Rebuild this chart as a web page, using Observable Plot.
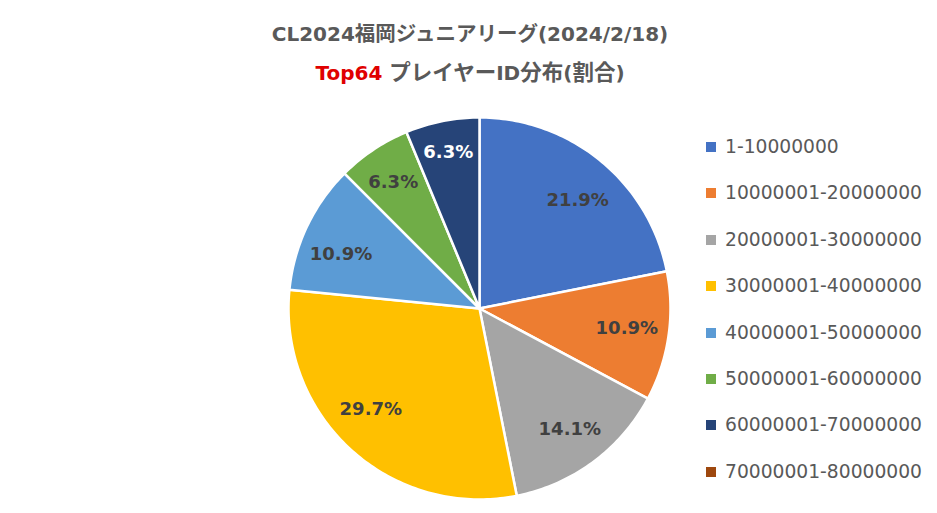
<!DOCTYPE html>
<html><head><meta charset="utf-8">
<script src="https://cdn.jsdelivr.net/npm/d3@7"></script>
<script src="https://cdn.jsdelivr.net/npm/@observablehq/plot@0.6"></script>
<style>
body{margin:0;background:#fff}
#wrap{position:relative;width:937px;height:513px;overflow:hidden}
#wrap svg{position:absolute;left:0;top:0}
.title{position:absolute;left:0;width:940px;text-align:center;font-family:"DejaVu Sans","Noto Sans CJK JP",sans-serif;font-weight:bold;font-size:20px;color:#595959;white-space:nowrap;line-height:26px}
.title .jp{font-family:"Noto Sans CJK JP",sans-serif;font-size:20.5px}
.title.l2 .jp{font-size:21.5px}
#legend{position:absolute;left:706px;top:0;font-family:"DejaVu Sans",sans-serif;font-size:18.7px;color:#595959}
.item{position:absolute;left:0;white-space:nowrap;height:20px;line-height:20px}
.sw{position:absolute;left:0;top:5px;width:10px;height:10px}
.lt{position:absolute;left:19px;top:0}
</style></head>
<body><div id="wrap"></div>
<script>
const categories = ["1-10000000","10000001-20000000","20000001-30000000","30000001-40000000","40000001-50000000","50000001-60000000","60000001-70000000","70000001-80000000"];
const counts = [14,7,9,19,7,4,4,0];
const colors = ["#4472C4","#ED7D31","#A5A5A5","#FFC000","#5B9BD5","#70AD47","#264478","#9E480E"];
const whiteLabelCats = ["60000001-70000000"];
// label placement nudges in pixels (layout only)
const labelNudgeX = [3,-1,1,-8,-3,-3,-2,0];
const labelNudgeY = [8,-2,0,-10,10,-2,-9,0];

const cx=479, cy=308, R=191;
const total = d3.sum(counts);
const data = categories.map((c,i)=>({cat:c, count:counts[i], i}));
const arcs = d3.pie().sort(null).value(d=>d.count)(data).filter(a=>a.data.count>0);

const poly = [];
for (const a of arcs) {
  const span = a.endAngle - a.startAngle;
  const n = Math.max(2, Math.ceil(span / (Math.PI/180)));
  poly.push({cat:a.data.cat, x:0, y:0});
  for (let k=0;k<=n;k++){
    const t = a.startAngle + span*k/n;
    poly.push({cat:a.data.cat, x:Math.sin(t), y:Math.cos(t)});
  }
}
const labels = arcs.map(a=>{
  const m=(a.startAngle+a.endAngle)/2, r=0.785, i=a.data.i;
  return {cat:a.data.cat,
    x:r*Math.sin(m) + labelNudgeX[i]/R,
    y:r*Math.cos(m) - labelNudgeY[i]/R,
    text:(a.data.count/total*100).toFixed(1)+"%"};
});

const plot = Plot.plot({
  width:937, height:513,
  marginTop:0, marginBottom:0, marginLeft:0, marginRight:0,
  x:{domain:[-1,1], range:[cx-R, cx+R], axis:null},
  y:{domain:[-1,1], range:[cy+R, cy-R], axis:null},
  color:{domain:categories, range:colors},
  marks:[
    Plot.line(poly, {x:"x", y:"y", z:"cat", fill:"cat", stroke:"white", strokeWidth:2.5, curve:"linear-closed", strokeLinejoin:"round"}),
    Plot.text(labels.filter(d=>!whiteLabelCats.includes(d.cat)), {x:"x", y:"y", text:"text", fill:"#404040", fontWeight:"bold", fontSize:18, fontFamily:"DejaVu Sans"}),
    Plot.text(labels.filter(d=>whiteLabelCats.includes(d.cat)), {x:"x", y:"y", text:"text", fill:"white", fontWeight:"bold", fontSize:18, fontFamily:"DejaVu Sans"})
  ]
});
const wrap = document.getElementById("wrap");
wrap.appendChild(plot);

const t1 = document.createElement("div");
t1.className="title"; t1.style.top="19px";
t1.innerHTML='CL2024<span class="jp">福岡ジュニアリーグ</span>(2024/2/18)';
wrap.appendChild(t1);
const t2 = document.createElement("div");
t2.className="title l2"; t2.style.top="58px";
t2.innerHTML='<span style="color:#E00000">Top64</span> <span class="jp">プレイヤー</span>ID<span class="jp">分布</span>(<span class="jp">割合</span>)';
wrap.appendChild(t2);

const leg = d3.select(wrap).append("div").attr("id","legend");
const items = leg.selectAll(".item").data(categories).join("div").attr("class","item")
  .style("top",(d,i)=>(137 + i*46.4)+"px");
items.append("div").attr("class","sw").style("background",(d,i)=>colors[i]);
items.append("div").attr("class","lt").text(d=>d);
</script></body></html>
